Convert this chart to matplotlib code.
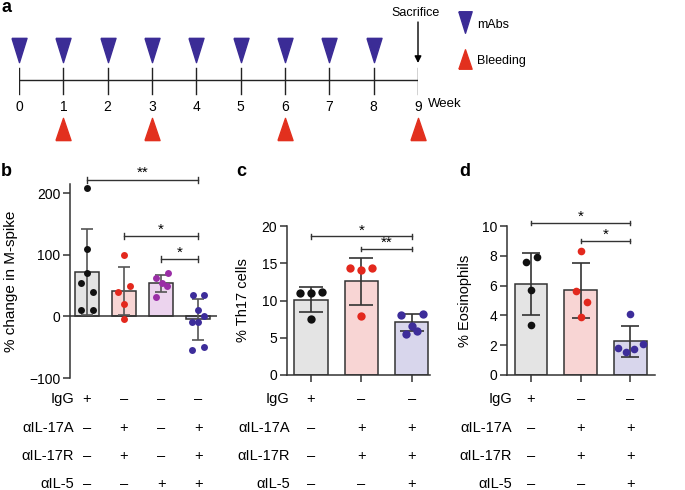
import matplotlib
matplotlib.use("Agg")
import matplotlib.pyplot as plt
import matplotlib.transforms as mtransforms
import numpy as np

plt.rcParams['font.family'] = ['Liberation Sans', 'DejaVu Sans']
plt.rcParams['font.size'] = 10

# ---------------- data ----------------
weeks = [0, 1, 2, 3, 4, 5, 6, 7, 8, 9]
mabs_weeks = [0, 1, 2, 3, 4, 5, 6, 7, 8]
bleeding_weeks = [1, 3, 6, 9]
sacrifice_week = 9

# panel b: % change in M-spike
b_means = [72, 41, 54, -5]
b_sd = [70, 39, 14, 33.5]
b_points = [
    [209, 109, 70, 55, 39, 11, 11],
    [100, 50, 40, 20, -4],
    [63, 71, 55, 49, 32],
    [35, 35, 11, 0, -9, -9, -54, -50],
]
b_jitter = [
    [0, 0, 0, -0.17, 0.15, -0.17, 0.15],
    [0, 0.16, -0.16, 0, 0],
    [-0.14, 0.18, 0.02, 0.15, -0.14],
    [-0.14, 0.15, 0, 0.17, -0.16, 0, -0.16, 0.15],
]
b_rows = {
    "IgG": ["+", "–", "–", "–"],
    "αIL-17A": ["–", "+", "–", "+"],
    "αIL-17R": ["–", "+", "–", "+"],
    "αIL-5": ["–", "–", "+", "+"],
}
b_sig = [(0, 3, 222, "**"), (1, 3, 130, "*"), (2, 3, 93, "*")]

# panel c: % Th17 cells
c_means = [10.1, 12.6, 7.05]
c_sd = [1.7, 3.15, 1.1]
c_points = [
    [11.0, 11.0, 11.1, 7.5],
    [14.3, 14.1, 14.3, 7.9],
    [8.1, 8.2, 6.6, 5.5, 5.9],
]
c_jitter = [
    [-0.22, 0, 0.22, 0],
    [-0.22, 0, 0.22, 0],
    [-0.22, 0.22, 0, -0.12, 0.11],
]
c_sig = [(0, 2, 18.6, "*"), (1, 2, 16.9, "**")]

# panel d: % Eosinophils
d_means = [6.1, 5.7, 2.25]
d_sd = [2.07, 1.85, 1.05]
d_points = [
    [7.6, 7.9, 5.7, 3.35],
    [8.3, 5.66, 4.92, 3.9],
    [4.1, 1.8, 1.55, 1.75, 2.05],
]
d_jitter = [
    [-0.1, 0.13, 0, 0],
    [0, -0.1, 0.12, 0],
    [0, -0.24, -0.09, 0.08, 0.25],
]
cd_rows = {
    "IgG": ["+", "–", "–"],
    "αIL-17A": ["–", "+", "+"],
    "αIL-17R": ["–", "+", "+"],
    "αIL-5": ["–", "–", "+"],
}
d_sig = [(0, 2, 10.2, "*"), (1, 2, 9.0, "*")]

# colours
BLUE = "#3b2c96"
RED = "#e2301e"
bar_fill_4 = ["#e4e4e4", "#f8d5d4", "#ecd4ee", "#d8d6ec"]
pt_col_4 = ["#111111", "#e3281d", "#9a2ea6", "#3d2d9a"]
bar_fill_3 = ["#e4e4e4", "#f8d5d4", "#d8d6ec"]
pt_col_3 = ["#111111", "#e3281d", "#3d2d9a"]
EDGE = "#333333"

W, H = 685, 490
fig = plt.figure(figsize=(6.85, 4.9), dpi=100)

def fx(px):
    return px / W

def fy(py):
    return 1 - py / H

# ---------------- panel a ----------------
ax_a = fig.add_axes([fx(19), fy(160), fx(399), 160 / H])
ax_a.set_xlim(0, 9)
ax_a.set_ylim(160, 0)
ax_a.axis("off")
ax_a.plot([weeks[0], weeks[-1]], [80, 80], color="#222222", lw=1.0)
for w in weeks:
    ax_a.plot([w, w], [68, 94], color="#222222", lw=1.0)
    ax_a.text(w, 107, str(w), ha="center", va="center", fontsize=10)
ax_a.text(9.23, 104, "Week", ha="left", va="center", fontsize=9.5, clip_on=False)

down_tri = [(-0.31, 0.5), (0.31, 0.5), (0, -0.5), (-0.31, 0.5)]
up_tri = [(-0.34, -0.5), (0.34, -0.5), (0, 0.5), (-0.34, -0.5)]
ax_a.plot(mabs_weeks, [50] * len(mabs_weeks), linestyle="none", marker=down_tri,
          markersize=17.5, color=BLUE, clip_on=False)
ax_a.plot(bleeding_weeks, [129] * len(bleeding_weeks), linestyle="none", marker=up_tri,
          markersize=16, color=RED, clip_on=False)
ax_a.annotate("", xy=(sacrifice_week, 63), xytext=(sacrifice_week, 22),
              arrowprops=dict(arrowstyle="-|>", color="black", lw=1.0,
                              mutation_scale=10, shrinkA=0, shrinkB=0))
ax_a.text(sacrifice_week - 0.05, 13, "Sacrifice", ha="center", va="center", fontsize=9)

# legend for panel a (figure coordinates)
fig.lines.append(plt.Line2D([fx(465)], [fy(22.5)], linestyle="none", marker=down_tri,
                            markersize=15.5, color=BLUE, transform=fig.transFigure))
fig.lines.append(plt.Line2D([fx(465)], [fy(59)], linestyle="none", marker=up_tri,
                            markersize=14, color=RED, transform=fig.transFigure))
fig.text(fx(477), fy(25), "mAbs", ha="left", va="center", fontsize=9)
fig.text(fx(477), fy(61), "Bleeding", ha="left", va="center", fontsize=9)

# panel letters
fig.text(fx(1), fy(12), "a", fontsize=13, fontweight="bold", ha="left", va="baseline")
fig.text(fx(1), fy(176), "b", fontsize=13, fontweight="bold", ha="left", va="baseline")
fig.text(fx(236), fy(176), "c", fontsize=13, fontweight="bold", ha="left", va="baseline")
fig.text(fx(459), fy(176), "d", fontsize=13, fontweight="bold", ha="left", va="baseline")


def style_axes(ax):
    for s in ["top", "right"]:
        ax.spines[s].set_visible(False)
    for s in ["left", "bottom"]:
        ax.spines[s].set_color(EDGE)
        ax.spines[s].set_linewidth(1.1)
    ax.tick_params(axis="y", direction="out", length=5, width=1.1, color=EDGE,
                   labelsize=10, pad=2)


def draw_bars(ax, means, sd, points, jitter, fills, cols, width, capsize, msize, ecol):
    x = np.arange(len(means))
    ax.bar(x, means, width=width, color=fills, edgecolor=EDGE, linewidth=1.1, zorder=2)
    ax.errorbar(x, means, yerr=sd, fmt="none", ecolor=ecol, elinewidth=1.2,
                capsize=capsize, capthick=1.2, zorder=3)
    for i, (vals, jit) in enumerate(zip(points, jitter)):
        ax.plot(np.array(jit) + i, vals, linestyle="none", marker="o", markersize=msize,
                color=cols[i], markeredgewidth=0, zorder=4, clip_on=False)


def draw_sig(ax, sigs, tick_h, star_off, fs=11):
    for (a, b, y, s) in sigs:
        ax.plot([a, b], [y, y], color="#333333", lw=1.0, clip_on=False, zorder=5)
        for xe in (a, b):
            ax.plot([xe, xe], [y - tick_h, y + tick_h], color="#333333", lw=1.0,
                    clip_on=False, zorder=5)
        ax.text((a + b) / 2, y + star_off, s, ha="center", va="center", fontsize=fs,
                clip_on=False)


def draw_table(ax, rows, label_x_axes, row_px):
    trans_cells = mtransforms.blended_transform_factory(ax.transData, fig.transFigure)
    trans_lab = mtransforms.blended_transform_factory(ax.transAxes, fig.transFigure)
    for (label, marks), py in zip(rows.items(), row_px):
        ax.text(label_x_axes, fy(py), label, ha="right", va="center", fontsize=10.5,
                transform=trans_lab, clip_on=False)
        for i, m in enumerate(marks):
            ax.text(i, fy(py), m, ha="center", va="center", fontsize=10.5,
                    transform=trans_cells, clip_on=False)


row_px = [399, 428, 456, 484]

# ---------------- panel b ----------------
ax_b = fig.add_axes([fx(70), fy(378), fx(147), (378 - 184) / H])
style_axes(ax_b)
ax_b.spines["bottom"].set_visible(False)
ax_b.set_xlim(-0.46, 3.51)
ax_b.set_ylim(-100, 215)
ax_b.set_yticks([-100, 0, 100, 200])
ax_b.set_yticklabels(["−100", "0", "100", "200"])
ax_b.spines["left"].set_bounds(-100, 215)
ax_b.set_xticks([])
ax_b.axhline(0, color=EDGE, lw=1.1, zorder=2.5)
draw_bars(ax_b, b_means, b_sd, b_points, b_jitter, bar_fill_4, pt_col_4,
          width=0.65, capsize=4.5, msize=5.0, ecol="#555555")
draw_sig(ax_b, b_sig, 5, 11)
ax_b.set_ylabel("% change in M-spike", fontsize=11)
ax_b.yaxis.set_label_coords(-0.355, 0.5)
draw_table(ax_b, b_rows, 0.027, row_px)

# ---------------- panel c ----------------
ax_c = fig.add_axes([fx(287), fy(375), fx(143), 149 / H])
style_axes(ax_c)
ax_c.set_xlim(-0.475, 2.36)
ax_c.set_ylim(0, 20)
ax_c.set_yticks([0, 5, 10, 15, 20])
ax_c.set_xticks([0, 1, 2])
ax_c.set_xticklabels([])
ax_c.tick_params(axis="x", direction="out", length=5, width=1.1, color=EDGE)
draw_bars(ax_c, c_means, c_sd, c_points, c_jitter, bar_fill_3, pt_col_3,
          width=0.66, capsize=8.5, msize=6.0, ecol="#333333")
draw_sig(ax_c, c_sig, 0.3, 0.8)
ax_c.set_ylabel("% Th17 cells", fontsize=10.5)
ax_c.yaxis.set_label_coords(-0.26, 0.5)
draw_table(ax_c, cd_rows, 0.02, row_px)

# ---------------- panel d ----------------
ax_d = fig.add_axes([fx(507), fy(375), fx(148), 149 / H])
style_axes(ax_d)
ax_d.set_xlim(-0.485, 2.5)
ax_d.set_ylim(0, 10)
ax_d.set_yticks([0, 2, 4, 6, 8, 10])
ax_d.set_xticks([0, 1, 2])
ax_d.set_xticklabels([])
ax_d.tick_params(axis="x", direction="out", length=5, width=1.1, color=EDGE)
draw_bars(ax_d, d_means, d_sd, d_points, d_jitter, bar_fill_3, pt_col_3,
          width=0.66, capsize=6.5, msize=5.5, ecol="#333333")
draw_sig(ax_d, d_sig, 0.15, 0.4)
ax_d.set_ylabel("% Eosinophils", fontsize=10.5)
ax_d.yaxis.set_label_coords(-0.236, 0.5)
draw_table(ax_d, cd_rows, 0.034, row_px)

fig.savefig("out.png", dpi=100)
